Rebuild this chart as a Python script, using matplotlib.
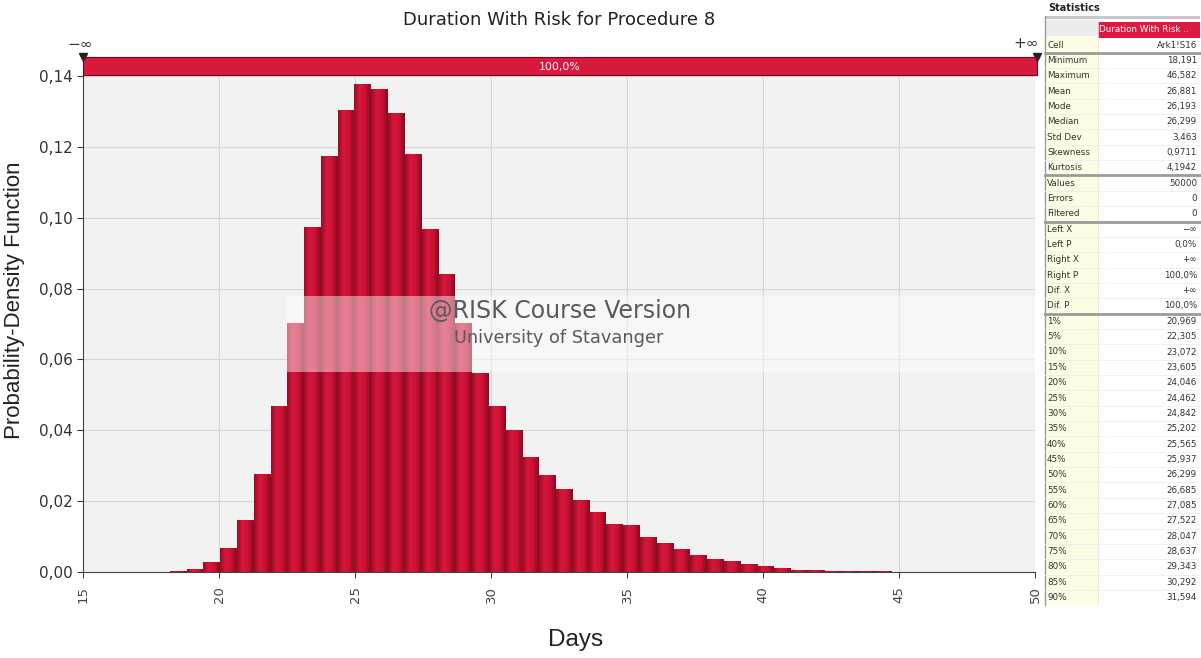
import numpy as np
import matplotlib
matplotlib.use("Agg")
import matplotlib.pyplot as plt
from matplotlib.colors import LinearSegmentedColormap
from matplotlib.patches import Rectangle
from matplotlib.ticker import FuncFormatter

# Histogram: equal-width bins spanning the simulated minimum to maximum
bin_start = 18.191
bin_end = 46.582
density = [0.0003, 0.0008, 0.0027, 0.0069, 0.0147, 0.0276, 0.0469, 0.0703,
           0.0975, 0.1175, 0.1305, 0.1378, 0.1362, 0.1296, 0.1181, 0.0968,
           0.0842, 0.0704, 0.0563, 0.0469, 0.0400, 0.0325, 0.0275, 0.0235,
           0.0203, 0.0168, 0.0135, 0.0133, 0.0100, 0.0081, 0.0066, 0.0048,
           0.0038, 0.0030, 0.0023, 0.0017, 0.0010, 0.0007, 0.0005, 0.0004,
           0.0003, 0.0002, 0.0002, 0.0001, 0.0001, 0.0001]

x_ticks = [15, 20, 25, 30, 35, 40, 45, 50]
y_ticks = [0.00, 0.02, 0.04, 0.06, 0.08, 0.10, 0.12, 0.14]

# Statistics panel
stats_labels = ["Cell",
                "Minimum", "Maximum", "Mean", "Mode", "Median", "Std Dev", "Skewness", "Kurtosis",
                "Values", "Errors", "Filtered",
                "Left X", "Left P", "Right X", "Right P", "Dif. X", "Dif. P",
                "1%", "5%", "10%", "15%", "20%", "25%", "30%", "35%", "40%", "45%",
                "50%", "55%", "60%", "65%", "70%", "75%", "80%", "85%", "90%"]
stats_values = ["Ark1!S16",
                "18,191", "46,582", "26,881", "26,193", "26,299", "3,463", "0,9711", "4,1942",
                "50000", "0", "0",
                "\u2212\u221e", "0,0%", "+\u221e", "100,0%", "+\u221e", "100,0%",
                "20,969", "22,305", "23,072", "23,605", "24,046", "24,462", "24,842", "25,202",
                "25,565", "25,937", "26,299", "26,685", "27,085", "27,522", "28,047", "28,637",
                "29,343", "30,292", "31,594"]
stats_groups = [1, 8, 3, 6, 19]

W, H = 1201, 658
fig = plt.figure(figsize=(W / 100, H / 100), dpi=100)
fig.patch.set_facecolor("white")


def px(x0, y0, x1, y1):
    return [x0 / W, 1 - y1 / H, (x1 - x0) / W, (y1 - y0) / H]


# main histogram
ax = fig.add_axes(px(83, 76, 1035, 572))
ax.set_facecolor("#f2f2f2")
edges = np.linspace(bin_start, bin_end, len(density) + 1)
bars = ax.bar(edges[:-1], density, width=np.diff(edges), align="edge",
              color="#c8102e", edgecolor="none", zorder=2)

grad = np.linspace(0, 1, 64).reshape(1, -1)
bar_cmap = LinearSegmentedColormap.from_list(
    "bar", ["#9c0b25", "#d9163b", "#c81234", "#8a0920"])
for b in bars:
    x0, w, h = b.get_x(), b.get_width(), b.get_height()
    im = ax.imshow(grad, extent=[x0, x0 + w, 0, h], aspect="auto",
                   cmap=bar_cmap, interpolation="bilinear", zorder=2.1)
    im.set_clip_path(b)

ax.set_xlim(15, 50)
ax.set_ylim(0, 0.14)
ax.set_xticks(x_ticks)
ax.set_yticks(y_ticks)
ax.yaxis.set_major_formatter(FuncFormatter(lambda v, _: f"{v:.2f}".replace(".", ",")))
ax.grid(color="#d6d6d6", lw=0.8)
ax.set_axisbelow(True)
for s in ["top", "right"]:
    ax.spines[s].set_visible(False)
for s in ["left", "bottom"]:
    ax.spines[s].set_color("#444444")
ax.tick_params(axis="x", labelrotation=90, labelsize=9.5, colors="#444444",
               length=4, pad=6)
ax.tick_params(axis="y", labelsize=11, colors="#333333", length=4)

# course-version watermark
ax.add_patch(Rectangle((22.5, 0.0565), 27.5, 0.0215, facecolor="white",
                       alpha=0.45, edgecolor="none", zorder=3))
ax.text(32.55, 0.0737, "@RISK Course Version", ha="center", va="center",
        fontsize=17, color="#5a5a5a", zorder=4)
ax.text(32.5, 0.0660, "University of Stavanger", ha="center", va="center",
        fontsize=12.8, color="#5a5a5a", zorder=4)

# delimiter band above the plot
band = fig.add_axes(px(83, 57, 1037, 75))
band.set_facecolor("#d81a3e")
band.set_xticks([])
band.set_yticks([])
for s in band.spines.values():
    s.set_color("#6e0a1d")
band.text(0.5, 0.45, "100,0%", transform=band.transAxes, ha="center",
          va="center", color="white", fontsize=7.8)
band.plot([0, 1], [1.0, 1.0], "v", transform=band.transAxes, color="#222222",
          ms=6, clip_on=False)
fig.text(80 / W, 1 - 44 / H, "\u2212\u221e", ha="center", va="center",
         fontsize=11, color="#333333")
fig.text(1026 / W, 1 - 44 / H, "+\u221e", ha="center", va="center",
         fontsize=11, color="#333333")

fig.text(559 / W, 1 - 20 / H, "Duration With Risk for Procedure 8",
         ha="center", va="center", fontsize=13, color="#222222")
fig.text(15 / W, 1 - 300 / H, "Probability-Density Function", rotation=90,
         ha="center", va="center", fontsize=16, family="Liberation Sans",
         color="#222222")
fig.text(576 / W, 1 - 640 / H, "Days", ha="center", va="center",
         fontsize=17.5, family="Liberation Sans", color="#222222")

# statistics table
tb = fig.add_axes(px(1044, 0, 1201, 658))
tb.set_xlim(1044, 1201)
tb.set_ylim(658, 0)
tb.axis("off")

row_h = 15.35
first_y = 45
n_rows = len(stats_labels)
top_y = first_y - row_h / 2
bottom_y = first_y + (n_rows - 0.5) * row_h

tb.text(1048, 8, "Statistics", fontsize=7, fontweight="bold", va="center",
        color="#222222")
tb.add_patch(Rectangle((1045, 16), 155, 2.5, facecolor="#c8c8c8", edgecolor="none"))
tb.add_patch(Rectangle((1045, 20), 53, top_y - 21, facecolor="#ececec", edgecolor="none"))
tb.add_patch(Rectangle((1098, 22), 102, 15.5, facecolor="#dc1942", edgecolor="none"))
tb.text(1099, 30, "Duration With Risk ..", fontsize=6.3, color="white", va="center")
tb.add_patch(Rectangle((1045, top_y), 53, bottom_y - top_y, facecolor="#fdfde6",
                       edgecolor="none"))
tb.plot([1045, 1045], [16, bottom_y], color="#9a9a9a", lw=1)
tb.plot([1098, 1098], [20, bottom_y], color="#e6e6d0", lw=0.6)

group_ends = np.cumsum(stats_groups)
for i, (lab, val) in enumerate(zip(stats_labels, stats_values)):
    yc = first_y + i * row_h
    tb.text(1047, yc, lab, fontsize=6.3, color="#333333", va="center")
    tb.text(1197, yc, val, fontsize=6.3, color="#333333", va="center", ha="right")
    yb = yc + row_h / 2
    if (i + 1) in group_ends[:-1]:
        tb.plot([1045, 1200], [yb, yb], color="#9a9a9a", lw=2)
    elif i < n_rows - 1:
        tb.plot([1045, 1200], [yb, yb], color="#ececec", lw=0.6)

fig.savefig("out.png", dpi=100)
